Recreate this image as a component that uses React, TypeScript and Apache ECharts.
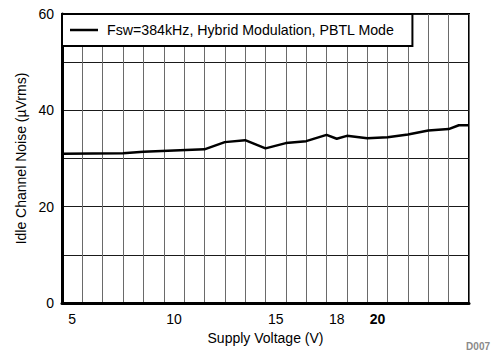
import React, { useEffect, useRef } from "react";
import * as echarts from "echarts";

const voltage = [4.5, 7.5, 8.5, 11.5, 12.5, 13.5, 14.5, 15.5, 16.5, 17.5, 18, 18.5, 19.5, 20.5, 21.5, 22.5, 23.5, 24, 24.5];
const noise = [31.0, 31.1, 31.4, 31.9, 33.4, 33.8, 32.1, 33.2, 33.6, 34.9, 34.1, 34.7, 34.2, 34.4, 35.0, 35.8, 36.1, 36.9, 36.9];
const xTickLabels = [5, 10, 15, 18, 20];
const yTickLabels = [0, 20, 40, 60];
const seriesName = "Fsw=384kHz, Hybrid Modulation, PBTL Mode";

const FONT = "'Liberation Sans', Arial, Helvetica, sans-serif";

export default function App() {
  const ref = useRef<HTMLDivElement>(null);
  useEffect(() => {
    if (!ref.current) return;
    const chart = echarts.init(ref.current, null, { renderer: "svg" });
    chart.setOption({
      animation: false,
      backgroundColor: "#fff",
      textStyle: { fontFamily: FONT },
      grid: {
        left: 62,
        top: 14,
        width: 407,
        height: 289,
        show: true,
        borderColor: "#000",
        borderWidth: 2,
        backgroundColor: "transparent",
      },
      legend: {
        show: true,
        left: 62,
        top: 14,
        orient: "horizontal",
        backgroundColor: "#fff",
        borderColor: "#000",
        borderWidth: 2,
        borderRadius: 0,
        padding: [9, 18, 9, 8],
        itemWidth: 28,
        itemHeight: 2.5,
        textStyle: { fontFamily: FONT, fontSize: 14.2, color: "#000", padding: [0, 0, 0, 4] },
        data: [{ name: seriesName, icon: "rect", itemStyle: { color: "#000" } }],
      },
      xAxis: [
        {
          type: "value",
          min: 4.5,
          max: 24.5,
          position: "bottom",
          axisLine: { show: true, onZero: false, lineStyle: { color: "#000", width: 3 } },
          axisTick: { show: false },
          splitLine: { show: false },
          axisLabel: {
            show: true,
            customValues: xTickLabels,
            margin: 9,
            fontSize: 14,
            fontFamily: FONT,
            color: "#000",
            formatter: (v: number) => (v === 20 ? "{b|20}" : String(v)),
            rich: { b: { fontWeight: "bold", fontSize: 14, fontFamily: FONT, color: "#000" } },
          },
          name: "Supply Voltage (V)",
          nameLocation: "middle",
          nameGap: 28,
          nameTextStyle: { fontSize: 14, fontFamily: FONT, color: "#000" },
        },
        {
          type: "value",
          min: 4,
          max: 24,
          interval: 1,
          position: "bottom",
          axisLine: { show: false },
          axisTick: { show: false },
          axisLabel: { show: false },
          splitLine: { show: true, lineStyle: { color: "#6a6a6a", width: 1 } },
        },
      ],
      yAxis: {
        type: "value",
        min: 0,
        max: 60,
        interval: 10,
        axisLine: { show: true, onZero: false, lineStyle: { color: "#000", width: 3 } },
        axisTick: { show: false },
        axisLabel: {
          customValues: yTickLabels,
          margin: 8,
          fontSize: 14,
          fontFamily: FONT,
          color: "#000",
        },
        splitLine: { show: true, lineStyle: { color: "#1a1a1a", width: 1 } },
        name: "Idle Channel Noise (µVrms)",
        nameLocation: "middle",
        nameGap: 28,
        nameTextStyle: { fontSize: 14, fontFamily: FONT, color: "#000" },
      },
      series: [
        {
          name: seriesName,
          type: "line",
          xAxisIndex: 0,
          symbol: "none",
          data: voltage.map((v, i) => [v, noise[i]]),
          lineStyle: { color: "#000", width: 2.5 },
          itemStyle: { color: "#000" },
          z: 3,
        },
      ],
      graphic: [
        {
          type: "text",
          right: 8,
          top: 341,
          style: { text: "D007", fontSize: 10, fontFamily: FONT, fill: "#8a8a8a", fontWeight: "bold" },
        },
      ],
    });
    return () => chart.dispose();
  }, []);
  return (
    <div
      ref={ref}
      style={{ position: "absolute", left: 0, top: 0, width: 498, height: 360 }}
    />
  );
}
